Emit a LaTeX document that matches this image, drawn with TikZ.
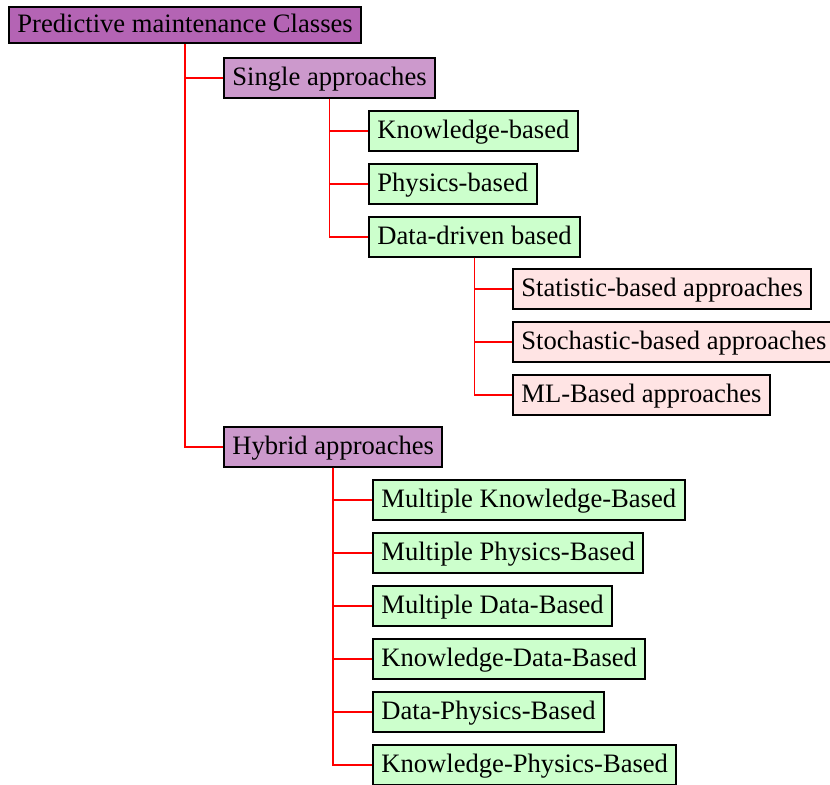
\documentclass[tikz,border=0pt]{standalone}
\usepackage{fontspec}
\setmainfont{Liberation Serif}
\usetikzlibrary{shadows}
\definecolor{rootc}{RGB}{180,100,180}
\definecolor{midc}{RGB}{204,153,204}
\definecolor{greenc}{RGB}{204,255,204}
\definecolor{pinkc}{RGB}{255,228,228}
\definecolor{linkc}{RGB}{255,0,0}
\tikzset{
  box/.style={draw=black, line width=1pt, anchor=west, font=\fontsize{13.3}{15}\selectfont,
    inner xsep=4.2pt, inner ysep=3.6pt, text height=9.8pt, text depth=2.6pt,
    drop shadow={shadow xshift=0.5pt, shadow yshift=-0.5pt, fill=gray!50, opacity=1}},
  rootbox/.style={box, fill=rootc, inner ysep=2.8pt},
  midbox/.style={box, fill=midc},
  greenbox/.style={box, fill=greenc},
  pinkbox/.style={box, fill=pinkc},
  link/.style={draw=linkc, line width=0.75pt}
}
\begin{document}
\begin{tikzpicture}[x=0.5pt, y=-0.5pt]
\useasboundingbox (0,0) rectangle (830,784);
\clip (0,0) rectangle (830,784);
\node[rootbox] (root) at (8,25) {Predictive maintenance Classes};
\node[midbox] (single) at (223,78) {Single approaches};
\node[greenbox] (know) at (368,131) {Knowledge-based};
\node[greenbox] (phys) at (368,184) {Physics-based};
\node[greenbox] (data) at (368,237) {Data-driven based};
\node[pinkbox] (stat) at (512,289) {Statistic-based approaches};
\node[pinkbox] (stoch) at (512,342) {Stochastic-based approaches};
\node[pinkbox] (ml) at (512,395) {ML-Based approaches};
\node[midbox] (hybrid) at (223,447) {Hybrid approaches};
\node[greenbox] (mkb) at (372,500) {Multiple Knowledge-Based};
\node[greenbox] (mpb) at (372,553) {Multiple Physics-Based};
\node[greenbox] (mdb) at (372,606) {Multiple Data-Based};
\node[greenbox] (kdb) at (372,659) {Knowledge-Data-Based};
\node[greenbox] (dpb) at (372,712) {Data-Physics-Based};
\node[greenbox] (kpb) at (372,765) {Knowledge-Physics-Based};
\begin{scope}[on background layer/.style={}]
\foreach \c in {single,hybrid} \draw[link] (root.south) |- (\c.west);
\foreach \c in {know,phys,data} \draw[link] (single.south) |- (\c.west);
\foreach \c in {stat,stoch,ml} \draw[link] (data.south) |- (\c.west);
\foreach \c in {mkb,mpb,mdb,kdb,dpb,kpb} \draw[link] (hybrid.south) |- (\c.west);
\end{scope}
\end{tikzpicture}
\end{document}
